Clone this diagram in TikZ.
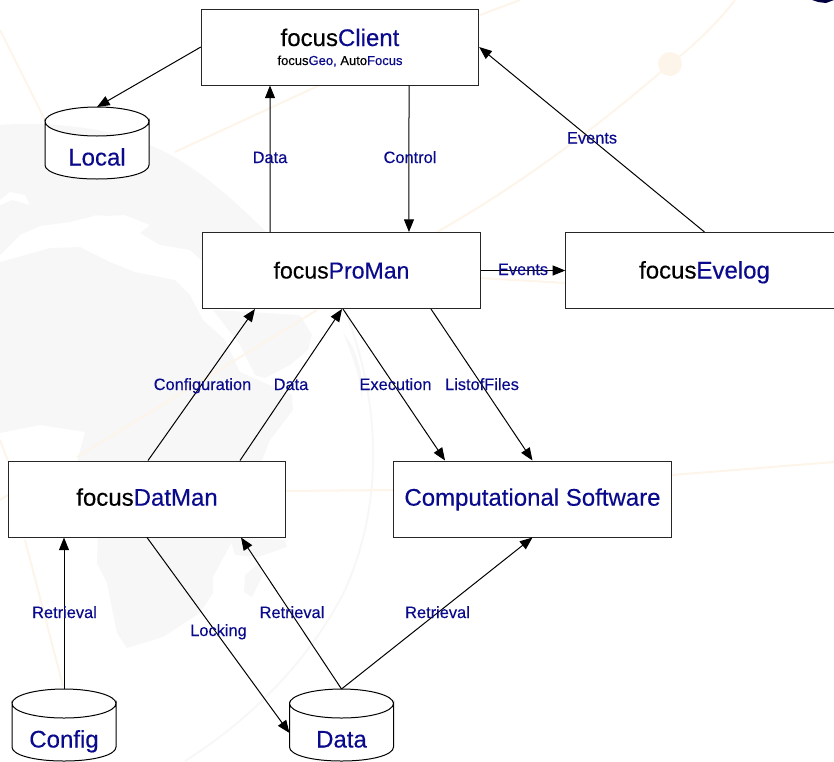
\documentclass[tikz,border=0pt]{standalone}
\usepackage{fontspec}
\setmainfont{Liberation Sans}
\newfontfamily\heavy[FakeBold=0.3]{Liberation Sans}
\usetikzlibrary{arrows.meta,calc}
\definecolor{navy}{HTML}{0A0A8C}
\definecolor{land}{HTML}{F7F7F7}
\definecolor{route}{HTML}{FDF4EA}
\newcommand{\bl}[1]{\textcolor{navy}{#1}}
\tikzset{
  box/.style={draw=black!85,line width=0.75pt,fill=white,minimum width=208pt,minimum height=57pt,inner sep=0pt,text height=14pt,text depth=2pt,font=\heavy\fontsize{18}{20}\selectfont},
  lowbox/.style={box,text height=13pt,text depth=3pt},
  dbtext/.style={inner sep=0pt,anchor=base,text=navy,font=\heavy\fontsize{18}{20}\selectfont},
  link/.style={draw=black,line width=0.75pt,-{Triangle[length=9.5pt,width=7.5pt]}},
  lab/.style={inner sep=0pt,anchor=base,text=navy,font=\heavy\fontsize{12.3}{14}\selectfont},
  routeline/.style={draw=route,line width=1.5pt},
  dbshape/.style={draw=black,line width=0.75pt,fill=white}
}
\newcommand{\dbcyl}[4]{%
  \path[dbshape] (#1-52,#2+14.5) -- (#1-52,#2+58)
    .. controls (#1-52,#2+66) and (#1-30,#2+72) .. (#1,#2+72)
    .. controls (#1+30,#2+72) and (#1+52,#2+66) .. (#1+52,#2+58)
    -- (#1+52,#2+14.5) arc[start angle=0,end angle=180,x radius=52,y radius=14.5] -- cycle;
  \path[dbshape,fill=none] (#1-52,#2+14.5) arc[start angle=180,end angle=360,x radius=52,y radius=14.5];
  \node[dbtext] (#3) at (#1,#2+58.5) {#4};
  \coordinate (#3top) at (#1,#2);
  \coordinate (#3left) at (#1-52,#2+44);
}
\begin{document}
\begin{tikzpicture}[x=0.75pt,y=-0.75pt]
\useasboundingbox (0,0) rectangle (834,761);
\clip (0,0) rectangle (834,761);
% background map
\fill[land] (0,125) .. controls (50,121) and (110,128) .. (149,145) .. controls (190,160) and (235,200) .. (272,238)
  -- (272,262) -- (203,262) -- (190,250) -- (160,245) -- (140,233) -- (150,225) -- (125,215) -- (90,217)
  -- (70,222) -- (40,226) -- (20,235) -- (5,250) -- (0,255) -- cycle;
\fill[white] (0,205) -- (12,200) -- (30,205) -- (25,195) -- (10,192) -- (0,200) -- cycle;
\fill[white] (92,216) .. controls (110,212) and (125,225) .. (118,235) .. controls (108,230) and (100,225) .. (92,216) -- cycle;
\fill[land] (0,262) -- (50,248) -- (80,247) -- (110,262) -- (135,272) -- (175,280) -- (190,295) -- (203,320)
  -- (225,340) -- (240,372) -- (258,380) -- (292,395) -- (293,410) -- (270,440) -- (258,470)
  -- (233,540) -- (213,577) -- (213,593) -- (200,613) -- (163,637) -- (127,648) -- (117,633) -- (107,583) -- (97,563)
  -- (98,530) -- (75,470) -- (85,432) -- (40,425) -- (0,433) -- cycle;
\fill[land] (213,310) -- (300,315) -- (312,335) -- (308,350) -- (290,365) -- (265,378) -- (255,375) -- (240,345) -- cycle;
\fill[land] (230,537) -- (285,540) -- (287,547) -- (258,557) -- (235,555) -- cycle;
\fill[land] (258,564) -- (263,575) -- (252,597) -- (244,592) -- (245,575) -- cycle;
\fill[land] (343,333) .. controls (355,345) and (365,375) .. (362,400) .. controls (360,375) and (350,350) .. (343,333) -- cycle;
\draw[land,line width=1.5pt] (345,310) .. controls (380,400) and (385,500) .. (345,590) .. controls (310,660) and (250,720) .. (185,761);
\draw[routeline] (0,30) -- (45,120);
\draw[routeline] (175,152) -- (320,85);
\draw[routeline] (480,15) -- (520,0);
\draw[routeline] (437,232) .. controls (520,185) and (600,125) .. (670,64) .. controls (695,45) and (720,20) .. (735,0);
\fill[route] (670,64) circle[radius=12];
\draw[routeline] (480,278) -- (566,283);
\draw[routeline] (285,491) -- (393,490);
\draw[routeline] (672,475) -- (834,462);
\draw[routeline] (77,457) -- (317,310);
\draw[routeline] (25,540) -- (63,686);
\draw[routeline] (0,440) -- (8,461);
\draw[routeline] (0,500) -- (8,495);
\fill[black!75!blue] (812,0) -- (834,0) -- (826,3) -- (818,2) -- cycle;
% cylinders
\dbcyl{97}{107}{local}{Local}
\dbcyl{64}{689}{config}{Config}
\dbcyl{341.5}{689}{data}{Data}
% boxes
\node[box] (client) at (340,47) {};
\node[inner sep=0pt,anchor=base,font=\heavy\fontsize{18}{20}\selectfont] (clienttitle) at (340,46) {focus\bl{Client}};
\node[inner sep=0pt,anchor=base,font=\heavy\fontsize{9.75}{11}\selectfont] (clientsub) at (340,65) {focus\bl{Geo,} Auto\bl{Focus}};
\node[box,font=\heavy\fontsize{17.3}{20}\selectfont] (proman) at (341.5,270.5) {focus\bl{ProMan}};
\node[box] (evelog) at (704.5,270.5) {focus\bl{Evelog}};
\node[lowbox] (datman) at (147,499) {focus\bl{DatMan}};
\node[lowbox] (comp) at (532.5,499) {\bl{Computational Software}};
% connectors
\draw[link] (client.west) -- (localtop);
\draw[link] ([xshift=-53.6pt]proman.north) -- ([xshift=-52.5pt]client.south);
\draw[link] ([xshift=51.75pt]client.south) -- ([xshift=50.6pt]proman.north);
\draw[link] (evelog.north) -- (client.east);
\draw[link] (proman.east) -- (evelog.west);
\draw[link] ([xshift=0.75pt]datman.north) -- ([xshift=-64.9pt]proman.south);
\draw[link] ([xshift=69.75pt]datman.north) -- ([xshift=0.4pt]proman.south);
\draw[link] ([xshift=1.1pt]proman.south) -- ([xshift=-65.6pt]comp.north);
\draw[link] ([xshift=67.1pt]proman.south) -- (comp.north);
\draw[link] (configtop) -- (configtop |- datman.south);
\draw[link] (datman.south) -- (dataleft);
\draw[link] (datatop) -- ([xshift=70.5pt]datman.south);
\draw[link] (datatop) -- (comp.south);
% labels
\node[lab] (l1) at (270,163) {Data};
\node[lab] (l2) at (410,163) {Control};
\node[lab] (l3) at (592,143.5) {Events};
\node[lab] (l4) at (523,275) {Events};
\node[lab] (l5) at (202.5,390) {Configuration};
\node[lab] (l6) at (291,390) {Data};
\node[lab] (l7) at (395.5,390) {Execution};
\node[lab] (l8) at (482,390) {ListofFiles};
\node[lab] (l9) at (64.5,618) {Retrieval};
\node[lab] (l10) at (218.5,636) {Locking};
\node[lab] (l11) at (292,618) {Retrieval};
\node[lab] (l12) at (437.5,618) {Retrieval};
\end{tikzpicture}
\end{document}
